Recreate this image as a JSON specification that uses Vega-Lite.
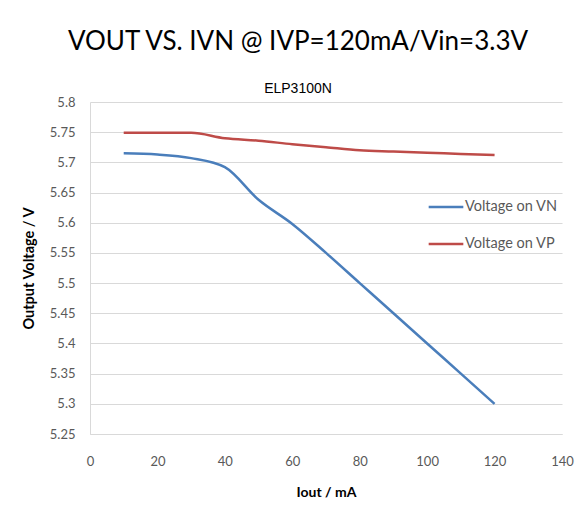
{
  "$schema": "https://vega.github.io/schema/vega-lite/v6.json",
  "width": 472,
  "height": 332,
  "autosize": {"type": "none"},
  "padding": {"left": 90, "top": 102, "right": 25, "bottom": 78},
  "background": "white",
  "title": {
    "text": "VOUT VS. IVN @ IVP=120mA/Vin=3.3V",
    "subtitle": "ELP3100N",
    "anchor": "middle",
    "font": "Lato",
    "fontSize": 26,
    "fontWeight": "normal",
    "color": "#000000",
    "subtitleFont": "Liberation Sans",
    "subtitleFontSize": 14,
    "subtitleColor": "#000000",
    "subtitlePadding": 27,
    "offset": 0,
    "dx": -28
  },
  "data": {
    "values": [
      {"I": 10, "V": 5.715, "series": "Voltage on VN"},
      {"I": 20, "V": 5.713, "series": "Voltage on VN"},
      {"I": 30, "V": 5.707, "series": "Voltage on VN"},
      {"I": 40, "V": 5.692, "series": "Voltage on VN"},
      {"I": 50, "V": 5.638, "series": "Voltage on VN"},
      {"I": 60, "V": 5.598, "series": "Voltage on VN"},
      {"I": 70, "V": 5.55, "series": "Voltage on VN"},
      {"I": 80, "V": 5.5, "series": "Voltage on VN"},
      {"I": 90, "V": 5.45, "series": "Voltage on VN"},
      {"I": 100, "V": 5.4, "series": "Voltage on VN"},
      {"I": 110, "V": 5.35, "series": "Voltage on VN"},
      {"I": 120, "V": 5.3, "series": "Voltage on VN"},
      {"I": 10, "V": 5.749, "series": "Voltage on VP"},
      {"I": 20, "V": 5.749, "series": "Voltage on VP"},
      {"I": 30, "V": 5.749, "series": "Voltage on VP"},
      {"I": 40, "V": 5.74, "series": "Voltage on VP"},
      {"I": 50, "V": 5.736, "series": "Voltage on VP"},
      {"I": 60, "V": 5.73, "series": "Voltage on VP"},
      {"I": 70, "V": 5.725, "series": "Voltage on VP"},
      {"I": 80, "V": 5.72, "series": "Voltage on VP"},
      {"I": 90, "V": 5.718, "series": "Voltage on VP"},
      {"I": 100, "V": 5.716, "series": "Voltage on VP"},
      {"I": 110, "V": 5.714, "series": "Voltage on VP"},
      {"I": 120, "V": 5.712, "series": "Voltage on VP"}
    ]
  },
  "mark": {"type": "line", "strokeWidth": 2.5, "interpolate": "monotone"},
  "encoding": {
    "x": {
      "field": "I",
      "type": "quantitative",
      "scale": {"domain": [0, 140], "nice": false},
      "axis": {
        "title": "Iout  / mA",
        "values": [0, 20, 40, 60, 80, 100, 120, 140],
        "grid": false,
        "ticks": false,
        "domain": true,
        "domainColor": "#d9d9d9",
        "labelFlush": false,
        "labelColor": "#595959",
        "labelFont": "Lato",
        "labelFontSize": 13,
        "labelPadding": 21,
        "titleFont": "Lato",
        "titleFontSize": 14,
        "titleFontWeight": "bold",
        "titleColor": "#000000",
        "titlePadding": 17
      }
    },
    "y": {
      "field": "V",
      "type": "quantitative",
      "scale": {"domain": [5.25, 5.8], "nice": false, "zero": false},
      "axis": {
        "title": "Output Voltage / V",
        "values": [5.25, 5.3, 5.35, 5.4, 5.45, 5.5, 5.55, 5.6, 5.65, 5.7, 5.75, 5.8],
        "format": ".2~f",
        "grid": true,
        "gridColor": "#d9d9d9",
        "gridWidth": 1,
        "ticks": false,
        "domain": true,
        "domainColor": "#d9d9d9",
        "labelFlush": false,
        "labelColor": "#595959",
        "labelFont": "Lato",
        "labelFontSize": 13,
        "labelPadding": 15,
        "titleFont": "Lato",
        "titleFontSize": 14.5,
        "titleFontWeight": "bold",
        "titleColor": "#000000",
        "titlePadding": 13
      }
    },
    "color": {
      "field": "series",
      "type": "nominal",
      "scale": {"domain": ["Voltage on VN", "Voltage on VP"], "range": ["#4a7ebb", "#be4b48"]},
      "legend": {
        "title": null,
        "orient": "none",
        "legendX": 337,
        "legendY": 86,
        "symbolType": "stroke",
        "symbolSize": 1200,
        "symbolStrokeWidth": 2.5,
        "labelOffset": 0,
        "labelFont": "Lato",
        "labelFontSize": 14.5,
        "labelColor": "#595959",
        "rowPadding": 11
      }
    }
  },
  "config": {"view": {"stroke": null}}
}
